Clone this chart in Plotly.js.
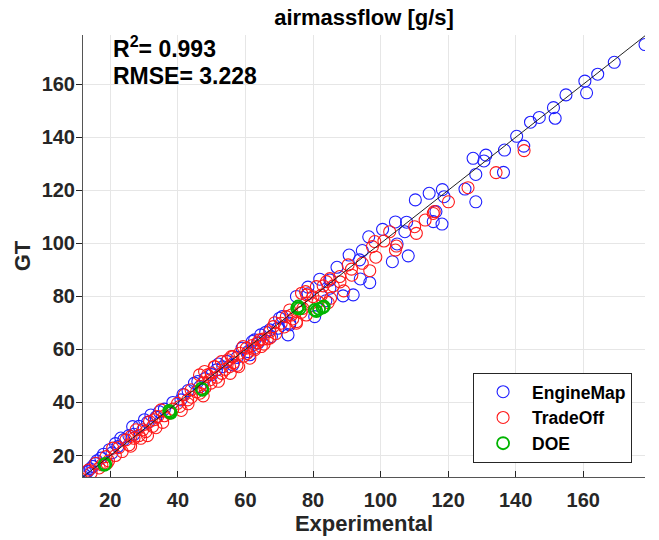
<!DOCTYPE html>
<html>
<head>
<meta charset="utf-8">
<script src="https://cdn.plot.ly/plotly-3.0.1.min.js"></script>
<style>html,body{margin:0;padding:0;background:#fff;}#chart{width:659px;height:540px;}</style>
</head>
<body>
<div id="chart"></div>
<script>
// EngineMap (blue)
var engX = [178.3,169.2,164.3,160.5,161.0,154.9,151.2,151.7,147.0,144.4,140.3,142.4,136.7,131.2,127.4,130.6,128.2,136.4,118.3,114.4,118.8,110.3,125.0,128.2,116.4,115.6,118.2,104.4,107.7,107.2,100.6,96.5,104.9,108.2,103.5,94.6,93.8,90.7,87.1,94.0,96.8,82.0,85.0,85.0,88.9,91.9,83.8,78.5,78.5,75.1,80.5,70.9,73.1,72.6,69.6,67.7,63.7,60.8,70.1,73.1,67.2,62.7,61.3,56.3,53.3,51.4,45.9,44.9,40.9,32.0,30.1,26.6,23.1,22.2,19.7,17.2,14.8,13.3,12.3,12.1,15.5,18.0,20.5,21.5,24.0,25.5,27.0,28.5,31.0,33.5,34.5,36.0,38.5,41.5,43.0,46.5,48.0,50.0,52.0,54.5,57.5,59.0,62.0,64.5,66.0,12.8,14.0,16.0];
var engY = [175.0,168.3,163.8,161.2,156.8,156.0,151.2,147.2,147.5,145.7,140.4,136.7,135.2,133.3,132.1,131.1,126.0,126.8,120.3,118.9,117.6,116.4,120.5,115.7,112.0,108.2,107.3,108.1,108.0,104.4,105.3,102.5,99.8,95.3,93.1,97.3,93.8,95.6,91.0,86.6,85.2,86.5,86.2,83.1,80.2,80.6,78.4,81.0,83.5,80.0,72.4,72.4,69.9,65.5,68.0,64.9,62.4,59.2,71.8,69.3,67.4,63.6,58.0,54.2,53.5,52.3,47.9,47.3,41.0,35.3,33.5,30.9,26.6,23.4,22.2,19.0,15.9,14.0,12.7,11.9,17.0,20.5,21.0,24.5,26.0,27.5,28.0,31.0,32.5,34.5,36.5,37.5,40.0,43.0,44.5,46.0,49.0,50.5,54.5,55.5,57.0,60.5,63.0,65.5,66.5,13.5,15.0,18.0];
// TradeOff (red)
var trX = [142.5,134.2,125.9,120.1,115.6,115.9,113.2,110.1,110.6,102.7,101.0,98.3,104.7,104.4,97.6,98.6,96.8,91.4,94.6,90.4,87.9,85.0,81.0,84.0,83.0,89.1,85.2,84.5,78.1,80.0,77.8,76.6,78.0,73.6,75.1,68.7,67.2,65.2,62.7,59.3,55.8,73.1,72.1,70.6,75.1,68.2,67.2,64.2,64.7,62.7,60.3,58.3,61.3,56.3,54.8,55.3,52.9,50.9,49.9,47.9,46.4,49.4,47.4,50.8,48.8,49.8,43.9,41.9,39.9,42.9,35.0,34.0,31.6,29.6,27.6,26.1,24.6,20.7,18.7,15.7,14.3,16.7,19.5,21.5,22.5,23.5,25.5,27.0,28.5,30.5,32.5,33.0,36.0,37.5,38.5,40.5,44.0,45.5,46.5,48.0,51.5,53.0,54.0,56.5,57.5,59.5,60.5,62.0,63.5,65.5,66.5,69.0,71.5,74.0,76.5,77.0,79.5,81.5,82.5,86.0,88.0,91.5,17.5,19.0,13.5,26.0,29.0,31.0,33.5,35.5,41.0,43.0,47.5,52.0,55.5,58.0];
var trY = [135.0,126.7,121.0,115.7,111.3,112.0,108.8,106.3,103.8,104.4,100.9,100.7,99.0,97.5,98.8,94.8,89.7,90.3,92.5,91.9,87.5,86.7,83.7,85.6,84.0,82.1,79.3,77.7,80.6,79.9,81.8,81.2,73.0,73.0,69.9,70.1,66.7,63.9,60.5,61.1,57.3,74.9,72.4,69.9,70.5,68.6,64.3,63.6,61.1,59.8,60.5,58.6,56.7,57.3,56.1,53.5,55.4,53.5,51.1,51.7,50.4,48.5,47.3,53.5,50.4,47.3,44.8,42.9,39.7,41.0,37.2,34.7,32.8,29.7,29.7,27.2,25.9,22.8,19.6,17.1,13.4,15.3,18.0,20.0,23.0,21.5,24.0,26.5,27.5,29.0,31.0,33.5,35.0,36.0,37.5,38.5,42.0,44.0,43.5,45.5,49.5,51.0,52.5,55.0,54.0,57.5,58.5,61.5,62.5,62.0,64.0,66.0,68.5,71.5,74.0,75.5,77.5,78.0,80.5,84.0,85.5,88.0,16.5,17.0,14.5,23.5,26.5,27.5,30.5,32.5,37.0,39.5,42.5,48.0,51.0,53.5];
// DOE (green)
var doeX = [18.2,18.5,37.7,37.4,37.9,47.3,47.0,75.6,75.3,76.0,80.5,81.0,81.8,83.2,82.8];
var doeY = [16.5,16.8,36.4,36.8,36.1,44.8,45.2,76.2,75.6,75.4,74.9,74.5,75.3,76.2,75.8];
var seriesNames = ["EngineMap","TradeOff","DOE"];
var xRange = [11.9,178.3];
var yRange = [11.9,178.6];
var r2Text = "R<sup>2</sup>= 0.993";
var rmseText = "RMSE= 3.228";

var FONT = "Liberation Sans, Arial, Helvetica, sans-serif";
function mk(x,y,name,color,w){
  return {x:x,y:y,name:name,type:'scatter',mode:'markers',
    marker:{symbol:'circle-open',size:12,color:color,line:{color:color,width:w}}};
}
var traces = [
  mk(engX,engY,seriesNames[0],'rgb(30,30,255)',1.1),
  mk(trX,trY,seriesNames[1],'rgb(255,25,25)',1.1),
  mk(doeX,doeY,seriesNames[2],'rgb(0,180,0)',1.8),
  {x:xRange,y:xRange,type:'scatter',mode:'lines',showlegend:false,hoverinfo:'skip',
    line:{color:'#222',width:1}}
];
var layout = {
  width:659,height:540,
  margin:{l:83,r:14,t:35,b:63},
  paper_bgcolor:'#fff',plot_bgcolor:'#fff',
  font:{family:FONT,color:'#262626'},
  title:{text:'airmassflow [g/s]',font:{size:22,weight:'bold',color:'#000'},
    x:0.5,xref:'paper',y:1-17/540,yref:'container',yanchor:'middle'},
  xaxis:{range:xRange,tickvals:[20,40,60,80,100,120,140,160],
    ticks:'inside',ticklen:6,tickcolor:'#262626',ticklabelstandoff:5,
    showgrid:true,gridcolor:'#e6e6e6',zeroline:false,
    showline:true,linecolor:'#555',linewidth:1,
    tickfont:{size:20,weight:'bold',color:'#262626'},
    title:{text:'Experimental',font:{size:22,weight:'bold',color:'#262626'},standoff:4}},
  yaxis:{range:yRange,tickvals:[20,40,60,80,100,120,140,160],
    ticks:'outside',ticklen:6,tickcolor:'#262626',ticklabelstandoff:-3,
    showgrid:true,gridcolor:'#e6e6e6',zeroline:false,
    showline:true,linecolor:'#555',linewidth:1,
    tickfont:{size:20,weight:'bold',color:'#262626'},
    title:{text:'GT',font:{size:22,weight:'bold',color:'#262626'},standoff:4}},
  showlegend:true,
  legend:{x:0.977,y:0.032,xanchor:'right',yanchor:'bottom',
    bgcolor:'#fff',bordercolor:'#262626',borderwidth:1,
    font:{size:17.5,weight:'bold',color:'#000'},itemwidth:48},
  annotations:[
    {text:r2Text,x:20.3,y:174.2,xref:'x',yref:'y',xanchor:'left',yanchor:'middle',showarrow:false,
      font:{size:23,weight:'bold',color:'#000'}},
    {text:rmseText,x:20.3,y:163.1,xref:'x',yref:'y',xanchor:'left',yanchor:'middle',showarrow:false,
      font:{size:23,weight:'bold',color:'#000'}}
  ]
};
Plotly.newPlot('chart',traces,layout,{displayModeBar:false,staticPlot:true});
</script>
</body>
</html>
